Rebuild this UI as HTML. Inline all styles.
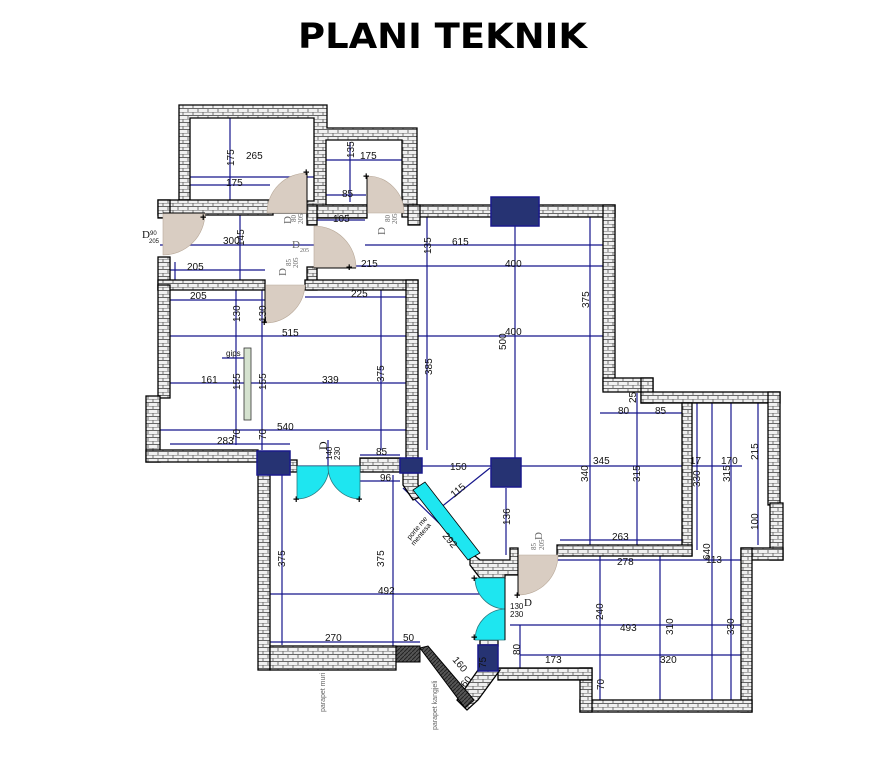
<!DOCTYPE html>
<html><head><meta charset="utf-8"><style>
html,body{margin:0;padding:0;background:#fff;}
svg{display:block;}
</style></head><body>
<svg width="882" height="780" viewBox="0 0 882 780" xmlns="http://www.w3.org/2000/svg" font-family="Liberation Sans, sans-serif">
<defs>
<pattern id="br" width="10" height="7" patternUnits="userSpaceOnUse">
<rect width="10" height="7" fill="#f0f0f0"/>
<path d="M0 0H10M0 3.5H10M3 0V3.5M8 3.5V7" stroke="#666" stroke-width="0.9" fill="none"/>
</pattern>
<pattern id="dk" width="4" height="4" patternUnits="userSpaceOnUse">
<rect width="4" height="4" fill="#555"/>
<path d="M0 4L4 0" stroke="#222" stroke-width="1"/>
</pattern>
</defs>
<rect width="882" height="780" fill="#fff"/>
<text x="298" y="48" font-family="DejaVu Sans, sans-serif" font-weight="bold" font-size="35" textLength="289" lengthAdjust="spacingAndGlyphs">PLANI TEKNIK</text>

<g stroke="#16168c" stroke-width="1.2" fill="none">
<line x1="190" y1="177" x2="314" y2="177"/><line x1="230" y1="118" x2="230" y2="201"/>
<line x1="190" y1="185" x2="270" y2="185"/>
<line x1="326" y1="160" x2="405" y2="160"/><line x1="350" y1="142" x2="350" y2="202"/>
<line x1="326" y1="195" x2="366" y2="195"/>
<line x1="310" y1="220" x2="365" y2="220"/>
<line x1="160" y1="245" x2="310" y2="245"/><line x1="240" y1="215" x2="240" y2="280"/>
<line x1="310" y1="245" x2="320" y2="245"/>
<line x1="365" y1="245" x2="605" y2="245"/>
<line x1="170" y1="270" x2="265" y2="270"/><line x1="175" y1="262" x2="175" y2="280"/>
<line x1="318" y1="266" x2="605" y2="266"/>
<line x1="427" y1="217" x2="427" y2="450"/>
<line x1="515" y1="226" x2="515" y2="458"/>
<line x1="590" y1="217" x2="590" y2="545"/>
<line x1="170" y1="300" x2="265" y2="300"/><line x1="305" y1="297" x2="406" y2="297"/>
<line x1="236" y1="290" x2="236" y2="445"/><line x1="262" y1="290" x2="262" y2="450"/>
<line x1="170" y1="336" x2="605" y2="336"/>
<line x1="170" y1="383" x2="406" y2="383"/>
<line x1="381" y1="290" x2="381" y2="450"/>
<line x1="160" y1="430" x2="406" y2="430"/>
<line x1="170" y1="444" x2="290" y2="444"/>
<line x1="222" y1="358" x2="245" y2="358"/>
<line x1="328" y1="440" x2="328" y2="466"/>
<line x1="360" y1="455" x2="400" y2="455"/>
<line x1="360" y1="481" x2="400" y2="481"/>
<line x1="290" y1="466" x2="400" y2="466"/>
<line x1="422" y1="466" x2="491" y2="466"/>
<line x1="521" y1="466" x2="742" y2="466"/>
<line x1="282" y1="475" x2="282" y2="645"/>
<line x1="393" y1="475" x2="393" y2="668"/>
<line x1="270" y1="594" x2="490" y2="594"/>
<line x1="270" y1="642" x2="400" y2="642"/>
<line x1="400" y1="642" x2="420" y2="642"/>
<line x1="490" y1="468" x2="435" y2="512"/>
<line x1="403" y1="488" x2="480" y2="563"/>
<line x1="506" y1="488" x2="506" y2="555"/>
<line x1="600" y1="413" x2="682" y2="413"/>
<line x1="637" y1="393" x2="637" y2="545"/>
<line x1="560" y1="540" x2="682" y2="540"/>
<line x1="697" y1="403" x2="697" y2="550"/>
<line x1="712" y1="403" x2="712" y2="700"/>
<line x1="731" y1="403" x2="731" y2="700"/>
<line x1="758" y1="403" x2="758" y2="545"/>
<line x1="520" y1="560" x2="741" y2="560"/>
<line x1="600" y1="556" x2="600" y2="700"/>
<line x1="660" y1="556" x2="660" y2="700"/>
<line x1="510" y1="625" x2="741" y2="625"/>
<line x1="520" y1="655" x2="741" y2="655"/>
<line x1="520" y1="625" x2="520" y2="668"/>
<line x1="505" y1="633" x2="480" y2="633"/>
<line x1="484" y1="645" x2="484" y2="670"/>
<line x1="423" y1="650" x2="470" y2="700"/>
</g>

<g fill="url(#br)" stroke="#000" stroke-width="1.3">
<path d="M179 105H327V128H417V205H402V140H326V205H366V213H190V213H179Z M190 118V201H314V118Z" fill-rule="evenodd"/>
<rect x="158" y="200" width="115" height="15"/>
<rect x="158" y="200" width="12" height="18"/>
<rect x="307" y="205" width="60" height="13"/>
<rect x="307" y="205" width="10" height="20"/>
<rect x="402" y="205" width="90" height="12"/>
<rect x="539" y="205" width="76" height="12"/>
<rect x="408" y="205" width="12" height="20"/>
<rect x="603" y="205" width="12" height="185"/>
<rect x="603" y="378" width="50" height="14"/>
<rect x="641" y="378" width="12" height="25"/>
<rect x="641" y="392" width="139" height="11"/>
<rect x="768" y="392" width="12" height="113"/>
<rect x="770" y="503" width="13" height="57"/>
<rect x="741" y="548" width="42" height="12"/>
<rect x="682" y="403" width="10" height="153"/>
<rect x="557" y="545" width="135" height="11"/>
<rect x="741" y="548" width="11" height="164"/>
<rect x="580" y="700" width="172" height="12"/>
<rect x="580" y="668" width="12" height="44"/>
<rect x="498" y="668" width="94" height="12"/>
<path d="M478 670H500L478 700L467 710L457 700Z"/>
<rect x="307" y="267" width="10" height="23"/>
<rect x="158" y="257" width="12" height="33"/>
<rect x="158" y="280" width="107" height="10"/>
<rect x="305" y="280" width="113" height="10"/>
<rect x="158" y="285" width="12" height="113"/>
<rect x="146" y="396" width="14" height="66"/>
<rect x="146" y="450" width="112" height="12"/>
<rect x="406" y="280" width="12" height="178"/>
<rect x="290" y="460" width="7" height="12"/>
<rect x="360" y="458" width="40" height="14"/>
<rect x="258" y="470" width="12" height="200"/>
<rect x="270" y="646" width="126" height="24"/>
<path d="M403 473H418V485L425 495L413 500L403 485Z"/>
<path d="M470 552L480 560H510V548H518V575H505V578H480L470 565Z"/>
<rect x="480" y="636" width="18" height="10"/>
</g>
<rect x="396" y="646" width="24" height="16" fill="url(#dk)" stroke="#000"/>
<path d="M420 648L428 646L474 700L465 708Z" fill="url(#dk)" stroke="#000"/>

<g fill="#263373" stroke="#1a1a8c" stroke-width="1.5">
<rect x="491" y="197" width="48" height="29"/>
<rect x="257" y="451" width="33" height="24"/>
<rect x="400" y="458" width="22" height="15"/>
<rect x="491" y="458" width="30" height="29"/>
<rect x="478" y="645" width="20" height="26"/>
</g>

<path d="M413 490L425 482L480 553L468 560Z" fill="#1ee6f0" stroke="#000" stroke-width="0.8"/>
<g fill="#1ee6f0" stroke="#2a7a80" stroke-width="0.8">
<path d="M297 466V499A33 33 0 0 0 329 466Z"/>
<path d="M360 466V499A33 33 0 0 1 328 466Z"/>
<path d="M505 578H475A31 31 0 0 0 505 609Z"/>
<path d="M505 640H475A31 31 0 0 1 505 609Z"/>
</g>
<line x1="505" y1="578" x2="505" y2="640" stroke="#000"/>

<g fill="#d9cdc2" stroke="#b8a898" stroke-width="0.6">
<path d="M307 213H267A40 40 0 0 1 307 173Z"/>
<path d="M367 213V176A37 37 0 0 1 404 213Z"/>
<path d="M163 213H205A42 42 0 0 1 163 255Z"/>
<path d="M314 268V226A42 42 0 0 1 356 268Z"/>
<path d="M265 285H305A40 40 0 0 1 265 323Z"/>
<path d="M518 555H558A40 40 0 0 1 518 595Z"/>
</g>
<g stroke="#000" stroke-width="1">
<line x1="307" y1="173" x2="307" y2="213"/><line x1="367" y1="176" x2="367" y2="213"/>
<line x1="163" y1="213" x2="205" y2="213"/><line x1="314" y1="268" x2="356" y2="268"/>
<line x1="265" y1="285" x2="265" y2="323"/><line x1="518" y1="555" x2="518" y2="595"/>
</g>
<g font-size="11" font-weight="bold" fill="#000">
<text x="303" y="176">+</text><text x="363" y="180">+</text><text x="200" y="221">+</text>
<text x="346" y="271">+</text><text x="261" y="326">+</text><text x="514" y="599">+</text>
<text x="293" y="503">+</text><text x="356" y="503">+</text><text x="471" y="582">+</text><text x="471" y="641">+</text>
</g>
<rect x="244" y="348" width="7" height="72" fill="#d5e2cf" stroke="#333" stroke-width="0.8"/>

<g font-size="10" fill="#111">
<text x="246" y="159">265</text><text x="226" y="186">175</text>
<text x="360" y="159">175</text><text x="342" y="197">85</text>
<text x="333" y="222">105</text>
<text x="223" y="244">300</text><text x="187" y="270">205</text>
<text x="361" y="267">215</text><text x="452" y="245">615</text><text x="505" y="267">400</text>
<text x="190" y="299">205</text><text x="351" y="297">225</text>
<text x="282" y="336">515</text><text x="505" y="335">400</text>
<text x="201" y="383">161</text><text x="322" y="383">339</text>
<text x="277" y="430">540</text><text x="217" y="444">283</text>
<text x="226" y="356" font-size="8">gips</text>
<text x="376" y="455">85</text><text x="380" y="481">96</text>
<text x="450" y="470">150</text><text x="593" y="464">345</text>
<text x="618" y="414">80</text><text x="655" y="414">85</text>
<text x="612" y="540">263</text><text x="617" y="565">278</text>
<text x="690" y="464">17</text><text x="721" y="464">170</text>
<text x="706" y="563">113</text>
<text x="378" y="594">492</text><text x="325" y="641">270</text><text x="403" y="641">50</text>
<text x="620" y="631">493</text><text x="545" y="663">173</text><text x="660" y="663">320</text>
<text x="510" y="609" font-size="8">130</text><text x="510" y="617" font-size="8">230</text>
<text x="524" y="606" font-size="11" font-family="Liberation Serif,serif">D</text>
<text x="142" y="238" font-size="11" font-family="Liberation Serif,serif">D</text>
<text x="150" y="235" font-size="6">90</text><text x="149" y="243" font-size="6">205</text>
</g>
<g font-size="10" fill="#111">
<text transform="translate(234,166) rotate(-90)">175</text>
<text transform="translate(354,158) rotate(-90)">135</text>
<text transform="translate(244,246) rotate(-90)">145</text>
<text transform="translate(431,254) rotate(-90)">135</text>
<text transform="translate(589,308) rotate(-90)">375</text>
<text transform="translate(506,350) rotate(-90)">500</text>
<text transform="translate(432,375) rotate(-90)">385</text>
<text transform="translate(384,382) rotate(-90)">375</text>
<text transform="translate(240,322) rotate(-90)">130</text>
<text transform="translate(266,322) rotate(-90)">130</text>
<text transform="translate(240,390) rotate(-90)">155</text>
<text transform="translate(266,390) rotate(-90)">155</text>
<text transform="translate(240,440) rotate(-90)">70</text>
<text transform="translate(266,440) rotate(-90)">70</text>
<text transform="translate(285,567) rotate(-90)">375</text>
<text transform="translate(384,567) rotate(-90)">375</text>
<text transform="translate(510,525) rotate(-90)">136</text>
<text transform="translate(588,482) rotate(-90)">340</text>
<text transform="translate(640,482) rotate(-90)">315</text>
<text transform="translate(700,487) rotate(-90)">330</text>
<text transform="translate(730,482) rotate(-90)">315</text>
<text transform="translate(758,460) rotate(-90)">215</text>
<text transform="translate(758,530) rotate(-90)">100</text>
<text transform="translate(710,560) rotate(-90)">640</text>
<text transform="translate(603,620) rotate(-90)">240</text>
<text transform="translate(673,635) rotate(-90)">310</text>
<text transform="translate(734,635) rotate(-90)">330</text>
<text transform="translate(604,690) rotate(-90)">70</text>
<text transform="translate(520,655) rotate(-90)">80</text>
<text transform="translate(486,668) rotate(-90)">75</text>
<text transform="translate(636,403) rotate(-90)">25</text>
<text transform="translate(332,460) rotate(-90)" font-size="8">140</text>
<text transform="translate(340,460) rotate(-90)" font-size="8">230</text>
<text transform="translate(327,450) rotate(-90)" font-size="12" font-family="Liberation Serif,serif">D</text>
<text transform="translate(454,498) rotate(-40)">115</text>
<text transform="translate(442,536) rotate(50)">292</text>
<text transform="translate(452,660) rotate(50)">160</text>
<text transform="translate(465,688) rotate(-50)">60</text>
<text transform="translate(410,540) rotate(-50)" font-size="7">porte me</text>
<text transform="translate(414,546) rotate(-50)" font-size="7">mentesa</text>
<text transform="translate(325,712) rotate(-90)" font-size="7" fill="#666">parapet muri</text>
<text transform="translate(437,730) rotate(-90)" font-size="7" fill="#666">parapet kangjeli</text>
</g>
<g font-size="11" fill="#666" font-family="Liberation Serif,serif">
<text transform="translate(291,224) rotate(-90)">D</text><text transform="translate(296,222) rotate(-90)" font-size="7">80</text><text transform="translate(303,224) rotate(-90)" font-size="7">205</text>
<text transform="translate(385,235) rotate(-90)">D</text><text transform="translate(390,222) rotate(-90)" font-size="7">80</text><text transform="translate(397,224) rotate(-90)" font-size="7">205</text>
<text transform="translate(286,276) rotate(-90)">D</text><text transform="translate(291,266) rotate(-90)" font-size="7">85</text><text transform="translate(298,268) rotate(-90)" font-size="7">205</text>
<text transform="translate(542,540) rotate(-90)">D</text><text transform="translate(536,550) rotate(-90)" font-size="7">85</text><text transform="translate(544,550) rotate(-90)" font-size="7">205</text>
<text x="292" y="248">D</text><text x="300" y="252" font-size="6">205</text>
</g>
</svg>
</body></html>
